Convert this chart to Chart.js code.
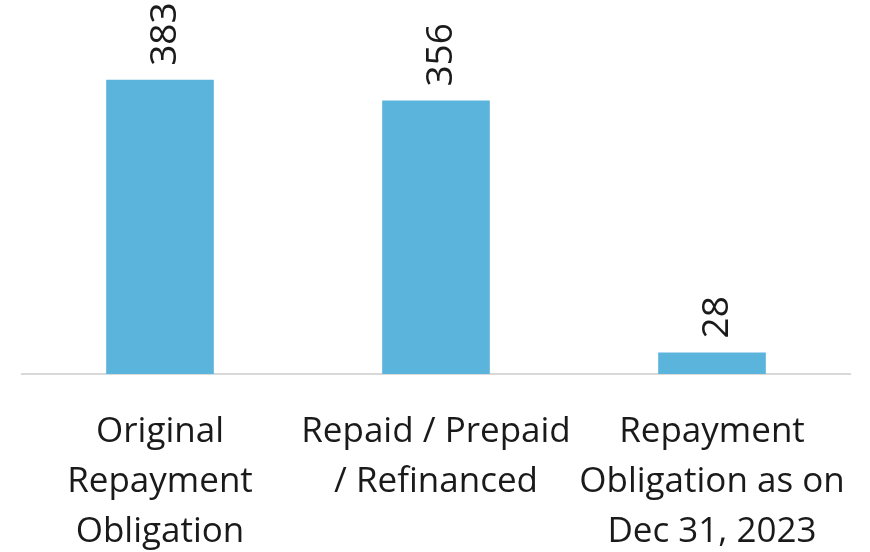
<!DOCTYPE html>
<html>
<head>
<meta charset="utf-8">
<title>Repayment Obligation</title>
<script src="https://cdn.jsdelivr.net/npm/chart.js@4/dist/chart.umd.min.js"></script>
<style>
  html, body { margin: 0; padding: 0; background: #ffffff; }
  #wrap { width: 870px; height: 552px; position: relative; }
</style>
</head>
<body>
<div id="wrap"><canvas id="repaymentChart"></canvas></div>
<script>
    'use strict';

    // categories (multi-line tick labels) and bar values
    var categories = [
        ['Original', 'Repayment', 'Obligation'],
        ['Repaid / Prepaid', '/ Refinanced'],
        ['Repayment', 'Obligation as on', 'Dec 31, 2023']
    ];
    var amounts = [383, 356, 28];

    var FONT = '"Open Sans", "Noto Sans", sans-serif';
    var BAR_COLOR = '#5bb4dc';
    var TEXT_COLOR = '#1a1a1a';

    // writes each bar's value vertically above it
    var verticalValueLabels = {
        id: 'verticalValueLabels',
        afterDatasetsDraw: function (chart) {
            var ctx = chart.ctx;
            var meta = chart.getDatasetMeta(0);
            ctx.save();
            ctx.font = '37px ' + FONT;
            ctx.fillStyle = TEXT_COLOR;
            ctx.textAlign = 'left';
            ctx.textBaseline = 'middle';
            meta.data.forEach(function (bar, i) {
                ctx.save();
                ctx.translate(bar.x + 5, bar.y - 14);
                ctx.rotate(-Math.PI / 2);
                ctx.fillText(String(amounts[i]), 0, 0);
                ctx.restore();
            });
            ctx.restore();
        }
    };

    var ctx = document.getElementById('repaymentChart').getContext('2d');
    new Chart(ctx, {
        type: 'bar',
        data: {
            labels: categories,
            datasets: [{
                data: amounts,
                backgroundColor: BAR_COLOR,
                borderWidth: 0,
                categoryPercentage: 1,
                barPercentage: 0.39
            }]
        },
        options: {
            responsive: true,
            maintainAspectRatio: false,
            animation: false,
            layout: { padding: { left: 22, right: 20, top: 0, bottom: 0 } },
            plugins: {
                legend: { display: false },
                tooltip: { enabled: false }
            },
            scales: {
                x: {
                    grid: { display: false, drawTicks: false },
                    border: { display: true, color: '#d9d9d9', width: 2 },
                    ticks: {
                        color: TEXT_COLOR,
                        padding: 33,
                        maxRotation: 0,
                        autoSkip: false,
                        font: { family: FONT, size: 35, lineHeight: 1.43 }
                    },
                    afterFit: function (scale) {
                        // fixed axis band; labels may overhang the plot edges
                        scale.height = 178;
                        scale.paddingLeft = 0;
                        scale.paddingRight = 0;
                    }
                },
                y: {
                    display: false,
                    min: 0,
                    max: 487
                }
            }
        },
        plugins: [verticalValueLabels]
    });
</script>
</body>
</html>
